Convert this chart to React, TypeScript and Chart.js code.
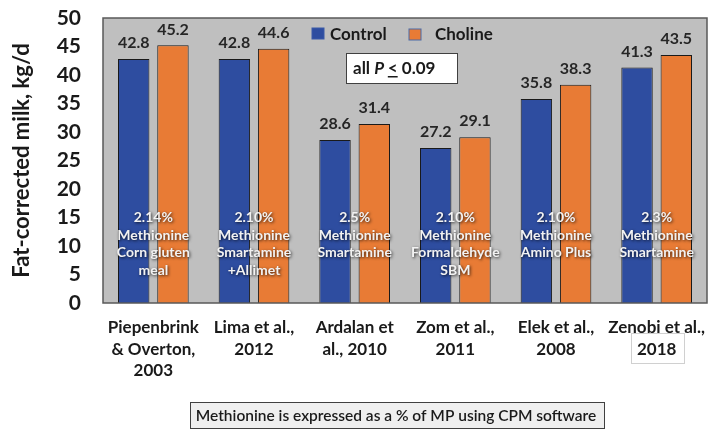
import React, { useEffect, useRef } from "react";
import { Chart, registerables } from "chart.js";
Chart.register(...registerables);

const studies: string[][] = [
  ["Piepenbrink", "& Overton,", "2003"],
  ["Lima et al.,", "2012"],
  ["Ardalan et", "al., 2010"],
  ["Zom et al.,", "2011"],
  ["Elek et al.,", "2008"],
  ["Zenobi et al.,", "2018"],
];
const control = [42.8, 42.8, 28.6, 27.2, 35.8, 41.3];
const choline = [45.2, 44.6, 31.4, 29.1, 38.3, 43.5];
const notes: string[][] = [
  ["2.14%", "Methionine", "Corn gluten", "meal"],
  ["2.10%", "Methionine", "Smartamine", "+Allimet"],
  ["2.5%", "Methionine", "Smartamine"],
  ["2.10%", "Methionine", "Formaldehyde", "SBM"],
  ["2.10%", "Methionine", "Amino Plus"],
  ["2.3%", "Methionine", "Smartamine"],
];
const yTicks = [0, 5, 10, 15, 20, 25, 30, 35, 40, 45, 50];

const FONT = "Lato, 'Open Sans', sans-serif";
const BLUE = "#2E4DA0";
const ORANGE = "#E87B35";

const decor = {
  id: "decor",
  beforeDatasetsDraw(chart: any) {
    const { ctx, chartArea: a } = chart;
    ctx.save();
    ctx.fillStyle = "#BFBFBF";
    ctx.fillRect(a.left, a.top, a.right - a.left, a.bottom - a.top);
    ctx.restore();
  },
  afterDatasetsDraw(chart: any) {
    const { ctx, chartArea: a } = chart;
    ctx.save();
    ctx.strokeStyle = "#595959";
    ctx.lineWidth = 1.5;
    ctx.strokeRect(a.left, a.top, a.right - a.left, a.bottom - a.top);

    // value labels
    ctx.font = `bold 16px ${FONT}`;
    ctx.fillStyle = "#262626";
    ctx.textAlign = "center";
    ctx.textBaseline = "middle";
    chart.data.datasets.forEach((ds: any, di: number) => {
      const meta = chart.getDatasetMeta(di);
      meta.data.forEach((bar: any, i: number) => {
        ctx.fillText(ds.data[i].toFixed(1), bar.x, bar.y - 16);
      });
    });

    // notes inside bars
    const xs = chart.scales.x;
    const ys = chart.scales.y;
    ctx.font = `bold 14px ${FONT}`;
    notes.forEach((lines, i) => {
      const cx = xs.getPixelForValue(i);
      const y0 = ys.getPixelForValue(15);
      lines.forEach((ln, k) => {
        ctx.save();
        ctx.shadowColor = "rgba(0,0,0,0.75)";
        ctx.shadowBlur = 3;
        ctx.shadowOffsetX = 1;
        ctx.shadowOffsetY = 1;
        ctx.fillStyle = "#F2F2F2";
        ctx.fillText(ln, cx, y0 + k * 17.5);
        ctx.restore();
      });
    });

    // legend
    ctx.font = `bold 17px ${FONT}`;
    ctx.textAlign = "left";
    ctx.fillStyle = BLUE;
    ctx.fillRect(312, 28, 12, 11);
    ctx.strokeStyle = "#3b5aa8";
    ctx.lineWidth = 1;
    ctx.strokeRect(312, 28, 12, 11);
    ctx.fillStyle = "#1a1a1a";
    ctx.fillText("Control", 330, 35);
    ctx.fillStyle = ORANGE;
    ctx.fillRect(409, 29, 12, 11);
    ctx.strokeStyle = "#4a6aa8";
    ctx.strokeRect(409, 29, 12, 11);
    ctx.fillStyle = "#1a1a1a";
    ctx.fillText("Choline", 435, 35);

    // P box
    ctx.fillStyle = "#FFFFFF";
    ctx.fillRect(346, 53, 111, 30);
    ctx.strokeStyle = "#404040";
    ctx.lineWidth = 1;
    ctx.strokeRect(346.5, 53.5, 111, 30);
    ctx.fillStyle = "#1a1a1a";
    let x = 353;
    const yy = 69;
    ctx.font = `bold 17px ${FONT}`;
    ctx.fillText("all ", x, yy);
    x += ctx.measureText("all ").width;
    ctx.font = `italic bold 17px ${FONT}`;
    ctx.fillText("P", x, yy);
    x += ctx.measureText("P ").width;
    ctx.font = `bold 17px ${FONT}`;
    ctx.fillText("<", x, yy);
    const lw = ctx.measureText("<").width;
    ctx.fillRect(x, yy + 7, lw, 1.5);
    x += ctx.measureText("< ").width;
    ctx.fillText("0.09", x, yy);

    // faint box around last label's year
    const lx = xs.getPixelForValue(studies.length - 1);
    ctx.strokeStyle = "#D0D0D0";
    ctx.lineWidth = 1;
    ctx.strokeRect(Math.round(lx - 26) + 0.5, 333.5, 53, 30);

    // bottom note box
    ctx.fillStyle = "#EFEFEF";
    ctx.fillRect(190, 402, 414, 26);
    ctx.strokeStyle = "#404040";
    ctx.strokeRect(190.5, 402.5, 414, 26);
    ctx.fillStyle = "#1a1a1a";
    ctx.font = `600 15.5px ${FONT}`;
    ctx.textAlign = "center";
    ctx.fillText("Methionine is expressed as a % of MP using CPM software", 396, 416);
    ctx.restore();
  },
};

export default function App() {
  const ref = useRef<HTMLCanvasElement>(null);
  useEffect(() => {
    if (!ref.current) return;
    const chart = new Chart(ref.current, {
      type: "bar",
      data: {
        labels: studies,
        datasets: [
          {
            label: "Control",
            data: control,
            backgroundColor: BLUE,
            borderColor: "#1a1a1a",
            borderWidth: 1,
            categoryPercentage: 0.78,
            barPercentage: 0.8,
          },
          {
            label: "Choline",
            data: choline,
            backgroundColor: ORANGE,
            borderColor: "#1a1a1a",
            borderWidth: 1,
            categoryPercentage: 0.78,
            barPercentage: 0.8,
          },
        ],
      },
      options: {
        animation: false,
        responsive: false,
        maintainAspectRatio: false,
        layout: { padding: { top: 18, right: 8, left: 0, bottom: 0 } },
        plugins: { legend: { display: false }, tooltip: { enabled: false } },
        scales: {
          x: {
            grid: { display: false, drawTicks: false },
            border: { display: false },
            ticks: {
              color: "#1a1a1a",
              font: { family: FONT, size: 17, weight: "bold", lineHeight: 1.27 },
              padding: 14,
              maxRotation: 0,
              autoSkip: false,
            },
            afterFit: (s: any) => {
              s.height = 127;
              s.paddingLeft = 0;
              s.paddingRight = 0;
            },
          },
          y: {
            min: 0,
            max: 50,
            afterBuildTicks: (s: any) => {
              s.ticks = yTicks.map((v) => ({ value: v }));
            },
            grid: { display: false, drawTicks: false },
            border: { display: false },
            ticks: {
              color: "#1a1a1a",
              font: { family: FONT, size: 21, weight: "bold" },
              padding: 22,
              autoSkip: false,
            },
            title: {
              display: true,
              text: "Fat-corrected milk, kg/d",
              color: "#1a1a1a",
              font: { family: FONT, size: 22, weight: "bold" },
              padding: { top: 9, bottom: 0 },
            },
            afterFit: (s: any) => {
              s.width = 103;
              s.paddingTop = 0;
              s.paddingBottom = 0;
            },
          },
        },
      },
      plugins: [decor],
    });
    return () => chart.destroy();
  }, []);
  return (
    <div style={{ position: "fixed", left: 0, top: 0, width: 715, height: 430, background: "#fff" }}>
      <canvas ref={ref} width={715} height={430} />
    </div>
  );
}
